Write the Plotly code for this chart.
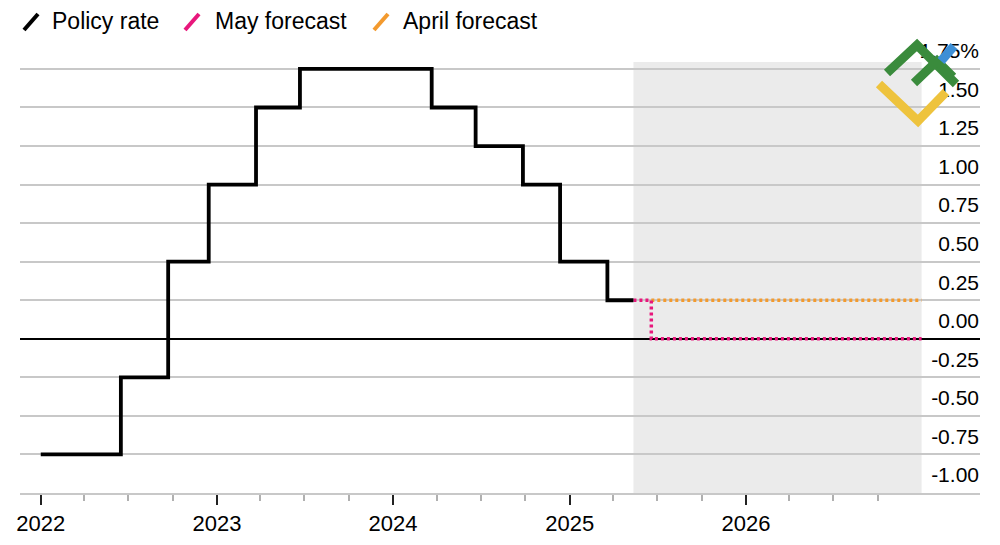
import plotly.graph_objects as go
import pandas as pd

# ---------------- data ----------------
policy_dates = ["2022-01-01", "2022-06-16", "2022-09-22", "2022-12-15", "2023-03-23",
                "2023-06-22", "2024-03-21", "2024-06-20", "2024-09-26", "2024-12-12",
                "2025-03-20", "2025-05-13"]
policy_rates = [-0.75, -0.25, 0.50, 1.00, 1.50, 1.75, 1.50, 1.25, 1.00, 0.50, 0.25, 0.25]

may_dates = ["2025-05-13", "2025-06-19", "2026-12-31"]
may_rates = [0.25, 0.00, 0.00]

april_dates = ["2025-06-19", "2026-12-31"]
april_rates = [0.25, 0.25]

forecast_start = "2025-05-13"
forecast_end = "2026-12-31"

year_ticks = ["2022-01-01", "2023-01-01", "2024-01-01", "2025-01-01", "2026-01-01"]
year_labels = ["2022", "2023", "2024", "2025", "2026"]

y_ticks = [1.75, 1.50, 1.25, 1.00, 0.75, 0.50, 0.25, 0.00, -0.25, -0.50, -0.75, -1.00]
y_labels = ["1.75%", "1.50", "1.25", "1.00", "0.75", "0.50", "0.25", "0.00",
            "-0.25", "-0.50", "-0.75", "-1.00"]

series_names = ["Policy rate", "May forecast", "April forecast"]
series_colors = ["#000000", "#e8177c", "#f39a2e"]

# ---------------- layout helpers ----------------
OFF = 8  # default page body margin
W, H = 984, 529
ML, MR, MT, MB = 12, 12, 54, 44
PW, PH = W - ML - MR, H - MT - MB


def px(x):
    return (x - OFF - ML) / PW


def py(y):
    return (OFF + H - MB - y) / PH


fig = go.Figure()

fig.add_trace(go.Scatter(x=april_dates, y=april_rates, mode="lines", line_shape="hv",
                         line=dict(color=series_colors[2], width=3.5, dash="3px,3px"),
                         name=series_names[2], showlegend=False, hoverinfo="skip"))
fig.add_trace(go.Scatter(x=may_dates, y=may_rates, mode="lines", line_shape="hv",
                         line=dict(color=series_colors[1], width=3.5, dash="3px,3px"),
                         name=series_names[1], showlegend=False, hoverinfo="skip"))
fig.add_trace(go.Scatter(x=policy_dates, y=policy_rates, mode="lines", line_shape="hv",
                         line=dict(color=series_colors[0], width=3.8),
                         name=series_names[0], showlegend=False, hoverinfo="skip"))

shapes = [dict(type="rect", xref="x", yref="paper", x0=forecast_start, x1=forecast_end,
               y0=0, y1=1, fillcolor="#ebebeb", line=dict(width=0), layer="below")]

# legend (slash icons + text)
leg_icon_x = [24, 185, 374]
leg_text_x = [50, 213, 401]
annotations = []
for i in range(3):
    x0 = leg_icon_x[i]
    shapes.append(dict(type="line", xref="paper", yref="paper",
                       x0=px(x0), y0=py(30), x1=px(x0 + 14), y1=py(14),
                       line=dict(color=series_colors[i], width=4)))
    annotations.append(dict(xref="paper", yref="paper", x=px(leg_text_x[i]), y=py(21),
                            xanchor="left", yanchor="middle", showarrow=False,
                            text=series_names[i],
                            font=dict(family="Liberation Sans, Arial", size=23, color="#000")))

# watermark logo approximation
logo = [
    ("#eec33d", [(879, 84), (918, 121), (946, 92)]),
    ("#3a8b3c", [(887, 73), (917, 45), (956, 84)]),
    ("#3a8b3c", [(914, 83), (937, 61), (953, 77)]),
    ("#3d8fd6", [(941, 61), (954, 46)]),
]
for col, pts in logo:
    path = "M " + " L ".join(f"{px(a):.5f},{py(b):.5f}" for a, b in pts)
    shapes.append(dict(type="path", xref="paper", yref="paper", path=path,
                       line=dict(color=col, width=9)))

minor_ticks = [d.strftime("%Y-%m-%d") for d in pd.date_range("2022-04-01", "2026-10-01", freq="QS")]

fig.update_layout(
    width=W, height=H,
    margin=dict(l=ML, r=MR, t=MT, b=MB, autoexpand=False),
    paper_bgcolor="white", plot_bgcolor="white",
    font=dict(family="Liberation Sans, Arial", color="#000"),
    shapes=shapes, annotations=annotations,
    xaxis=dict(type="date", range=["2021-11-19", "2027-05-01"], automargin=False,
               tickmode="array", tickvals=year_ticks, ticktext=year_labels,
               ticks="outside", ticklen=10, tickwidth=2, tickcolor="#222",
               tickfont=dict(size=22, color="#000"),
               showgrid=False, zeroline=False,
               showline=True, linecolor="#c8c8c8", linewidth=1.5,
               minor=dict(tickmode="array", tickvals=minor_ticks, ticks="outside",
                          ticklen=6, tickwidth=1.5, tickcolor="#b0b0b0", showgrid=False),
               fixedrange=True),
    yaxis=dict(range=[-1.0, 1.795], side="right", automargin=False,
               tickmode="array", tickvals=y_ticks, ticktext=y_labels,
               ticklabelposition="inside", ticklabelshift=-18, ticklabelstandoff=-2,
               ticklabeloverflow="allow",
               ticks="", tickfont=dict(size=21, color="#000"),
               showgrid=True, gridcolor="#c8c8c8", gridwidth=1.5,
               zeroline=True, zerolinecolor="#000", zerolinewidth=1.5,
               showline=False, fixedrange=True),
    showlegend=False,
)

fig.write_html("out.html")
